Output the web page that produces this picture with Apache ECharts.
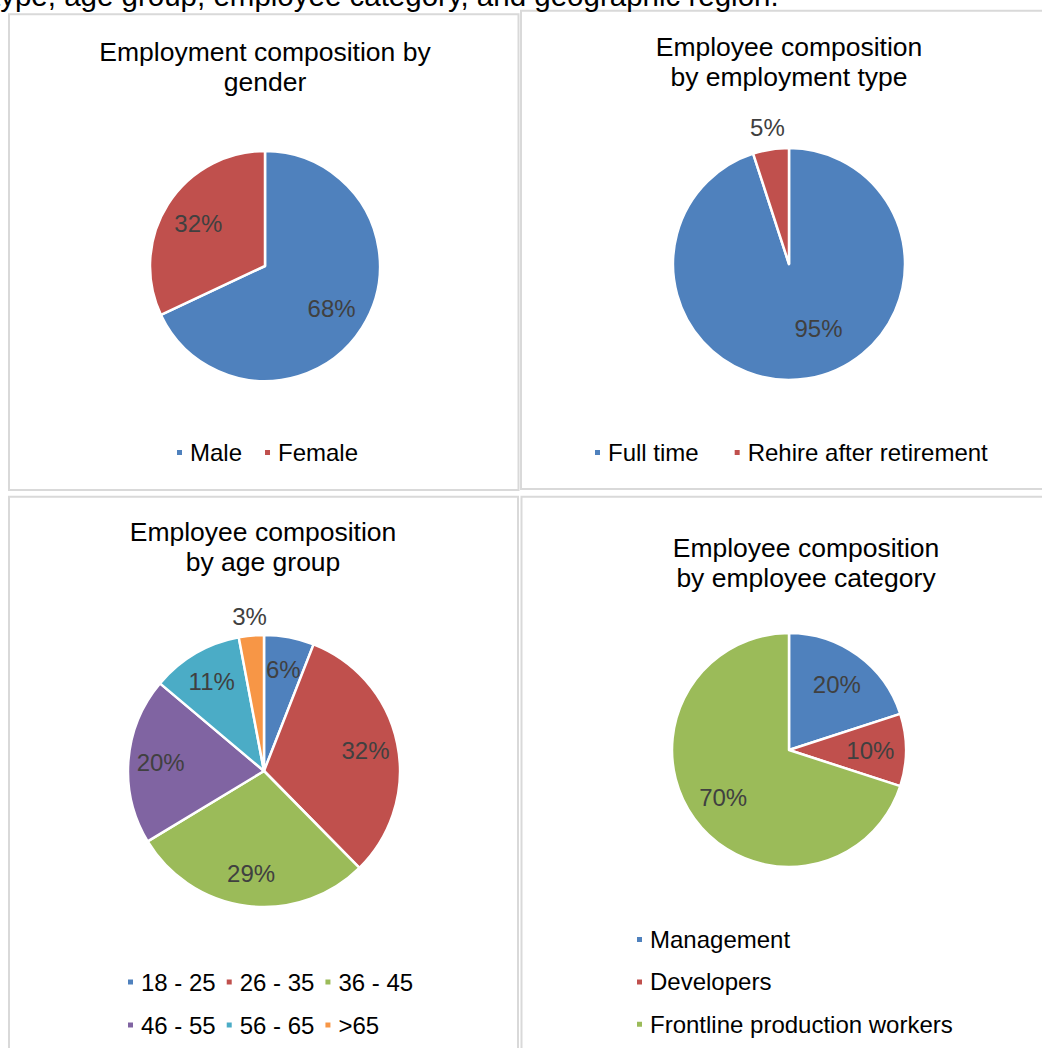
<!DOCTYPE html>
<html>
<head>
<meta charset="utf-8">
<script src="https://cdn.jsdelivr.net/npm/echarts@6/dist/echarts.min.js"></script>
<style>
html,body{margin:0;padding:0;background:#fff;overflow:hidden}
#c{width:1042px;height:1048px}
</style>
</head>
<body>
<div id="c"></div>
<script>
// ---- data ----
const genderCategories = ['Male', 'Female'];
const genderValues = [68, 32];

const typeCategories = ['Full time', 'Rehire after retirement'];
const typeValues = [95, 5];

const ageCategories = ['18 - 25', '26 - 35', '36 - 45', '46 - 55', '56 - 65', '>65'];
const ageValues = [6, 32, 29, 20, 11, 3];

const roleCategories = ['Management', 'Developers', 'Frontline production workers'];
const roleValues = [20, 10, 70];

const chartTitles = [
  'Employment composition by\ngender',
  'Employee composition\nby employment type',
  'Employee composition\nby age group',
  'Employee composition\nby employee category'
];
const introText = 'type, age group, employee category, and geographic region.';

// ---- styling ----
const palette = ['#4F81BD', '#C0504D', '#9BBB59', '#8064A2', '#4BACC6', '#F79646'];
const FONT = '"Liberation Sans", Arial, Helvetica, sans-serif';
const LABEL_SIZE = 24;
const LEGEND_SIZE = 24;
const TITLE_SIZE = 26.5;

function pctLabel(p) { return p.value + '%'; }

// builds main pie + label ghost pies
function buildPie(names, values, center, r, innerFrac, outsideNames, outerDist, offsets) {
  offsets = offsets || {};
  const main = {
    type: 'pie',
    center: center,
    radius: r,
    startAngle: 90,
    clockwise: true,
    avoidLabelOverlap: false,
    silent: true,
    label: { show: false },
    labelLine: { show: false },
    emphasis: { disabled: true },
    itemStyle: { borderColor: '#ffffff', borderWidth: 2.5 },
    data: names.map((n, i) => ({ name: n, value: values[i], itemStyle: { color: palette[i] } }))
  };
  const ghostBase = {
    type: 'pie',
    center: center,
    startAngle: 90,
    clockwise: true,
    avoidLabelOverlap: false,
    silent: true,
    legendHoverLink: false,
    labelLine: { show: false },
    emphasis: { disabled: true },
    itemStyle: { color: 'rgba(0,0,0,0)', borderWidth: 0 },
    label: {
      position: 'inside',
      formatter: pctLabel,
      fontSize: LABEL_SIZE,
      fontFamily: FONT,
      color: '#404040'
    }
  };
  const inner = Object.assign({}, ghostBase, {
    radius: [r * innerFrac, r],
    data: names.map((n, i) => ({
      name: n, value: values[i],
      label: { show: outsideNames.indexOf(n) < 0, offset: offsets[n] || [0, 0] }
    }))
  });
  const series = [main, inner];
  if (outsideNames.length) {
    series.push(Object.assign({}, ghostBase, {
      radius: [r, r + 2 * outerDist],
      data: names.map((n, i) => ({
        name: n, value: values[i],
        label: { show: outsideNames.indexOf(n) >= 0 }
      }))
    }));
  }
  return series;
}

function legendText() {
  return {
    fontSize: LEGEND_SIZE,
    fontFamily: FONT,
    color: '#000000',
    lineHeight: 24,
    padding: [0, 0, 0, 2]
  };
}
function makeLegend(data, left, top, gap, orient) {
  return {
    data: data,
    orient: orient || 'horizontal',
    left: left,
    top: top,
    padding: 0,
    itemGap: gap,
    itemWidth: 7,
    itemHeight: 7,
    icon: 'rect',
    selectedMode: false,
    textStyle: legendText()
  };
}
function makeTitle(text, cx, top) {
  return {
    text: text,
    left: cx,
    top: top,
    padding: 0,
    textAlign: 'center',
    textVerticalAlign: 'top',
    textStyle: {
      fontSize: TITLE_SIZE,
      fontWeight: 'normal',
      fontFamily: FONT,
      color: '#000000',
      lineHeight: 30
    }
  };
}
function panel(x1, y1, x2, y2) {
  return {
    type: 'rect',
    silent: true,
    z: -10,
    shape: { x: x1, y: y1, width: x2 - x1, height: y2 - y1 },
    style: { fill: 'none', stroke: '#D9D9D9', lineWidth: 2 }
  };
}

const chart = echarts.init(document.getElementById('c'), null, { renderer: 'svg' });

const option = {
  backgroundColor: '#ffffff',
  animation: false,
  tooltip: { show: false },
  title: [
    makeTitle(chartTitles[0], 265, 37),
    makeTitle(chartTitles[1], 789, 32),
    makeTitle(chartTitles[2], 263, 517),
    makeTitle(chartTitles[3], 806, 533)
  ],
  legend: [
    makeLegend(genderCategories, 175, 440.5, 21),
    makeLegend(typeCategories, 593, 440.5, 34),
    makeLegend(ageCategories.slice(0, 3), 126, 970, 9),
    makeLegend(ageCategories.slice(3), 126, 1013, 9),
    makeLegend(roleCategories, 635, 927.5, 18.4, 'vertical')
  ],
  graphic: [
    panel(9, 14.3, 518.5, 490),
    panel(521, 10.8, 1060, 489),
    panel(9, 496.7, 518, 1070),
    panel(521.5, 496.7, 1060, 1070),
    {
      type: 'text',
      x: -8,
      y: -4.5,
      silent: true,
      style: {
        text: introText,
        fontSize: 29.5,
        fontFamily: FONT,
        fill: '#000000',
        align: 'left',
        verticalAlign: 'middle'
      }
    }
  ],
  series: [].concat(
    buildPie(genderCategories, genderValues, [265, 266], 115, 0.32, [], 0),
    buildPie(typeCategories, typeValues, [789, 264], 116, 0.32, ['Rehire after retirement'], 19,
      { 'Full time': [17, -14] }),
    buildPie(ageCategories, ageValues, [264, 771], 136, 0.48, ['>65'], 16),
    buildPie(roleCategories, roleValues, [789, 750], 117, 0.34, [], 0)
  )
};
chart.setOption(option);
</script>
</body>
</html>
